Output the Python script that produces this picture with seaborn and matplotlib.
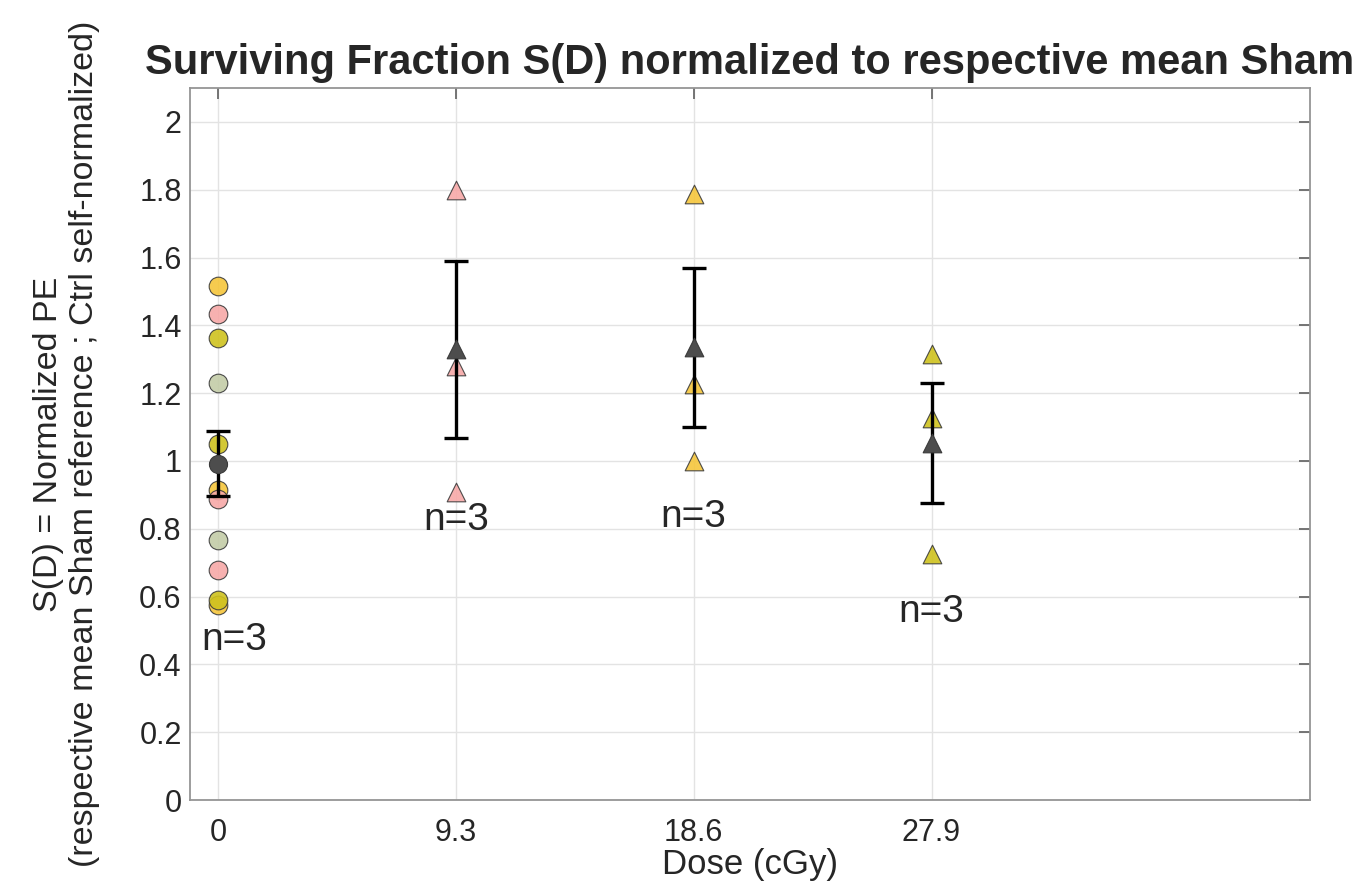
import numpy as np
import pandas as pd
import seaborn as sns
import matplotlib.pyplot as plt

############# Data #####################################
########################################################
doses = [0, 9.3, 18.6, 27.9]
dose_ticks = ['0', '9.3', '18.6', '27.9']

# Sham / control points (dose 0), one list per replicate colour
ctrl_gold = [1.517, 0.913, 0.574]
ctrl_pink = [1.434, 0.889, 0.677]
ctrl_olive = [1.363, 1.051, 0.589]
ctrl_sage = [1.229, 0.768]

# Irradiated points
dose_9_3 = [1.799, 1.281, 0.908]
dose_18_6 = [1.787, 1.227, 1.001]
dose_27_9 = [1.316, 1.127, 0.725]

# Mean +/- SEM per dose
means = [0.992, 1.329, 1.335, 1.053]
sems = [0.095, 0.260, 0.234, 0.176]

# n labels
n_labels = ['n=3', 'n=3', 'n=3', 'n=3']
n_label_x = [0.65, 9.3, 18.6, 27.9]
n_label_y = [0.471, 0.825, 0.834, 0.554]

############# Styling ##################################
########################################################
gold = '#f5c63c'
pink = '#f7a9a8'
olive = '#cfc21f'
sage = '#c3cca8'
mean_col = '#4d4d4d'
text_col = '#262626'
edge_col = '#3a3a3a'

sns.set_theme(style='whitegrid')
plt.rcParams['font.family'] = ['Liberation Sans', 'DejaVu Sans']

fig = plt.figure(figsize=(13.54, 8.92), dpi=100)
ax = fig.add_axes([190 / 1354, 1 - 800 / 892, 1120 / 1354, 712 / 892])

groups = [
    (ctrl_gold, 0, gold, 'o'),
    (ctrl_pink, 0, pink, 'o'),
    (ctrl_olive, 0, olive, 'o'),
    (ctrl_sage, 0, sage, 'o'),
    (dose_9_3, 9.3, pink, '^'),
    (dose_18_6, 18.6, gold, '^'),
    (dose_27_9, 27.9, olive, '^'),
]
for vals, d, col, mk in groups:
    df = pd.DataFrame({'dose': [d] * len(vals), 'val': vals})
    sns.scatterplot(data=df, x='dose', y='val', color=col, marker=mk, s=180,
                    edgecolor=edge_col, linewidth=0.8, alpha=0.9, zorder=2, ax=ax)

# Mean +/- SEM
ax.errorbar(doses, means, yerr=sems, fmt='none', ecolor='black', elinewidth=2.4,
            capsize=8.5, capthick=2.4, zorder=3)
mean_df = pd.DataFrame({'dose': doses, 'mean': means, 'kind': ['o', '^', '^', '^']})
sns.scatterplot(data=mean_df[mean_df['kind'] == 'o'], x='dose', y='mean', color=mean_col,
                marker='o', s=170, edgecolor=edge_col, linewidth=0.8, zorder=4, ax=ax)
sns.scatterplot(data=mean_df[mean_df['kind'] == '^'], x='dose', y='mean', color=mean_col,
                marker='^', s=180, edgecolor=edge_col, linewidth=0.8, zorder=4, ax=ax)

for x, y, t in zip(n_label_x, n_label_y, n_labels):
    ax.text(x, y, t, ha='center', va='center', fontsize=28, color=text_col, zorder=5)

# Axes
ax.set_xlim(-1.1, 42.7)
ax.set_ylim(0, 2.1)
ax.set_xticks(doses)
ax.set_xticklabels(dose_ticks)
ax.set_yticks(np.arange(0, 2.01, 0.2))
ax.set_yticklabels(['0', '0.2', '0.4', '0.6', '0.8', '1', '1.2', '1.4', '1.6', '1.8', '2'])
ax.set_facecolor('white')
ax.grid(True, color='#e3e3e3', linewidth=1.0)
ax.set_axisbelow(True)
for sp in ax.spines.values():
    sp.set_visible(True)
    sp.set_color('#959595')
    sp.set_linewidth(1.3)
ax.tick_params(direction='in', length=8, width=1.3, color='#6a6a6a', top=True, right=True,
               labelsize=22, labelcolor=text_col, pad=6)
ax.tick_params(axis='x', pad=13)

ax.set_xlabel('Dose (cGy)', fontsize=25, color=text_col, labelpad=0)
ax.set_ylabel('S(D) = Normalized PE\n(respective mean Sham reference ; Ctrl self-normalized)',
              fontsize=24.5, color=text_col, labelpad=28, linespacing=1.2)
ax.set_title('Surviving Fraction S(D) normalized to respective mean Sham',
             fontsize=30, fontweight='bold', color=text_col, pad=10)

fig.savefig('out.png', dpi=100)
